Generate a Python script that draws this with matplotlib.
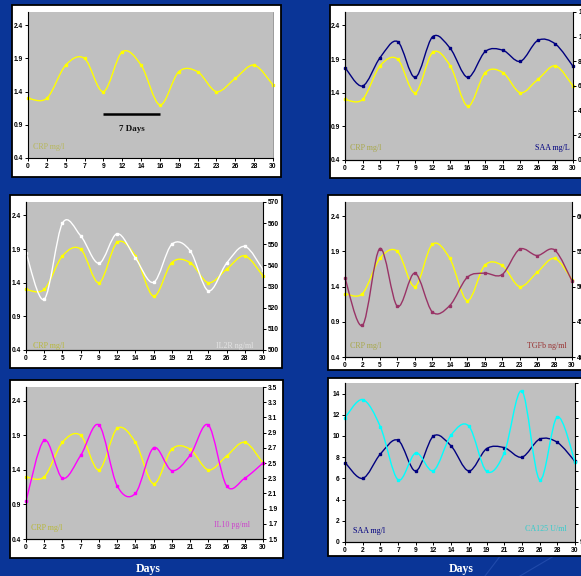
import numpy as np
import matplotlib.pyplot as plt
from matplotlib.path import Path
from matplotlib.patches import PathPatch, Rectangle
from matplotlib.lines import Line2D

# sampling days (category axis) and the measured series
days = ['0', '2', '5', '7', '9', '12', '14', '16', '19', '21', '23', '26', '28', '30']
crp = [1.3, 1.3, 1.8, 1.9, 1.4, 2.0, 1.8, 1.2, 1.7, 1.7, 1.4, 1.6, 1.8, 1.5]
saa = [7.5, 6.0, 8.3, 9.6, 6.7, 10.0, 9.05, 6.7, 8.8, 8.9, 8.0, 9.7, 9.4, 7.6]
il2r = [546, 524, 560, 554, 541, 555, 543.5, 532, 550, 547, 528, 541, 549, 538]
tgfb = [51.2, 44.5, 55.4, 47.2, 51.9, 46.4, 47.3, 51.3, 51.9, 51.7, 55.3, 54.4, 55.2, 50.8]
il10 = [2.0, 2.8, 2.3, 2.6, 3.0, 2.2, 2.1, 2.7, 2.4, 2.6, 3.0, 2.2, 2.3, 2.5]
ca125 = [130.2, 135.3, 127.6, 112.6, 120.2, 115.2, 125.3, 127.8, 115.0, 120.2, 137.7, 112.6, 130.4, 117.7]

crp_ticks = [0.4, 0.9, 1.4, 1.9, 2.4]

W, H = 581, 576
fig = plt.figure(figsize=(W / 100, H / 100), dpi=100)
fig.patch.set_facecolor('#0a3597')

SANS = 'Liberation Sans'
SERIF = 'Liberation Serif'

# faint swoosh lines of the slide background
for xs, ys in [((485, 520), (576, 530)), ((520, 581), (576, 540))]:
    fig.add_artist(Line2D([xs[0] / W, xs[1] / W], [1 - ys[0] / H, 1 - ys[1] / H],
                          color='#2f58b8', lw=0.8, alpha=0.6, zorder=-2))


def box(x0, y0, x1, y1):
    # white card behind each chart (pixel coords, top-left origin)
    fig.add_artist(Rectangle((x0 / W, 1 - y1 / H), (x1 - x0) / W, (y1 - y0) / H,
                             transform=fig.transFigure, facecolor='white',
                             edgecolor='black', lw=1.3, zorder=-1))


def style(ax, pad):
    ax.tick_params(direction='out', length=2.2, width=0.7, labelsize=4.8, pad=pad)
    for lab in ax.get_xticklabels() + ax.get_yticklabels():
        lab.set_fontweight('bold')
        lab.set_family(SANS)


def panel(x0, y0, x1, y1, xpad=2.2):
    ax = fig.add_axes([x0 / W, 1 - y1 / H, (x1 - x0) / W, (y1 - y0) / H])
    ax.set_facecolor('#c0c0c0')
    ax.set_xlim(0, len(days) - 1)
    ax.set_xticks(range(len(days)))
    ax.set_xticklabels(days)
    ax.spines['top'].set_visible(False)
    ax.spines['right'].set_color('#8a8a8a')
    ax.spines['right'].set_linewidth(0.6)
    for s in ('left', 'bottom'):
        ax.spines[s].set_linewidth(0.8)
    style(ax, 1.5)
    ax.tick_params(axis='x', pad=xpad)
    return ax


def crp_axis(ax):
    ax.set_ylim(0.4, 2.6)
    ax.set_yticks(crp_ticks)
    ax.set_yticklabels([f'{v:.1f}' for v in crp_ticks])
    style(ax, 1.5)


def right_axis(ax, lo, hi, ticks, labels):
    r = ax.twinx()
    r.set_ylim(lo, hi)
    r.set_yticks(ticks)
    r.set_yticklabels(labels)
    r.spines['top'].set_visible(False)
    r.spines['right'].set_linewidth(0.8)
    r.spines['right'].set_color('black')
    style(r, 1.5)
    return r


def smooth(ax, y, color):
    # smoothed line through the points, cubic Bezier segments
    pts = np.column_stack([np.arange(len(y), dtype=float), np.asarray(y, float)])
    n = len(pts)
    verts = [pts[0]]
    codes = [Path.MOVETO]
    for i in range(n - 1):
        p0, p1 = pts[max(i - 1, 0)], pts[i]
        p2, p3 = pts[i + 1], pts[min(i + 2, n - 1)]
        verts += [p1 + (p2 - p0) / 6, p2 - (p3 - p1) / 6, p2]
        codes += [Path.CURVE4] * 3
    ax.add_patch(PathPatch(Path(verts, codes), fill=False, edgecolor=color, lw=1.0))
    ax.plot(range(n), y, 's', color=color, ms=2.0, mec=color, clip_on=False)


def label(ax, x, y, text, color, ha='left'):
    ax.text(x, y, text, transform=ax.transAxes, ha=ha, va='center', color=color,
            fontsize=5.8, family=SERIF, fontweight='normal')


# --- CRP alone ---
box(12, 5, 281, 177)
ax1 = panel(28, 12, 273, 158, xpad=2.2)
crp_axis(ax1)
smooth(ax1, crp, '#ffff00')
a, b = days.index('9'), days.index('16')
ax1.plot([a, b], [1.06, 1.06], color='black', lw=1.8, solid_capstyle='butt')
ax1.text((a + b) / 2, 0.84, '7 Days', ha='center', va='center', fontsize=6.5,
         family=SERIF, fontweight='bold', color='#111111')
label(ax1, 0.022, 0.075, 'CRP mg/l', '#b8b85a')

# --- CRP vs SAA ---
box(330, 5, 595, 178)
ax2 = panel(345, 12, 573, 160, xpad=4.3)
crp_axis(ax2)
smooth(ax2, crp, '#ffff00')
r2 = right_axis(ax2, 0, 12, range(0, 13, 2), [str(v) for v in range(0, 13, 2)])
smooth(r2, saa, '#000080')
label(ax2, 0.022, 0.08, 'CRP mg/l', '#a8a84a')
label(ax2, 0.985, 0.08, 'SAA mg/L', '#000080', ha='right')

# --- CRP vs IL2R ---
box(10, 195, 282, 368)
ax3 = panel(26, 202, 263, 350, xpad=3.6)
crp_axis(ax3)
smooth(ax3, crp, '#ffff00')
r3 = right_axis(ax3, 500, 570, range(500, 571, 10), [str(v) for v in range(500, 571, 10)])
smooth(r3, il2r, '#ffffff')
label(ax3, 0.03, 0.025, 'CRP mg/l', '#b8b83a')
label(ax3, 0.96, 0.025, 'IL2R ng/ml', '#e4e4e4', ha='right')

# --- CRP vs TGFb ---
box(328, 195, 595, 370)
ax4 = panel(345, 202, 572, 357, xpad=0.7)
crp_axis(ax4)
smooth(ax4, crp, '#ffff00')
r4 = right_axis(ax4, 40, 62, range(40, 61, 5), [str(v) for v in range(40, 61, 5)])
smooth(r4, tgfb, '#993366')
label(ax4, 0.022, 0.07, 'CRP mg/l', '#a8a84a')
label(ax4, 0.975, 0.07, 'TGFb ng/ml', '#993333', ha='right')

# --- CRP vs IL10 ---
box(10, 380, 283, 558)
ax5 = panel(26, 387, 263, 539, xpad=3.6)
crp_axis(ax5)
smooth(ax5, crp, '#ffff00')
il10_ticks = [1.5, 1.7, 1.9, 2.1, 2.3, 2.5, 2.7, 2.9, 3.1, 3.3, 3.5]
r5 = right_axis(ax5, 1.5, 3.5, il10_ticks, [f'{v:.1f}' for v in il10_ticks])
smooth(r5, il10, '#ff00ff')
label(ax5, 0.02, 0.07, 'CRP mg/l', '#b8b83a')
label(ax5, 0.945, 0.09, 'IL10 pg/ml', '#cc44cc', ha='right')

# --- SAA vs CA125 ---
box(328, 378, 595, 556)
ax6 = panel(345, 383, 575, 542, xpad=1.4)
ax6.set_ylim(0, 15)
ax6.set_yticks(range(0, 15, 2))
ax6.set_yticklabels([str(v) for v in range(0, 15, 2)])
style(ax6, 1.5)
smooth(ax6, saa, '#000080')
r6 = right_axis(ax6, 95, 140, range(95, 141, 5), [str(v) for v in range(95, 141, 5)])
smooth(r6, ca125, '#00ffff')
label(ax6, 0.035, 0.07, 'SAA mg/l', '#000080')
label(ax6, 0.965, 0.08, 'CA125 U/ml', '#33cccc', ha='right')

# shared axis captions under the bottom row
for xc in (148, 461):
    fig.text(xc / W, 1 - 569 / H, 'Days', ha='center', va='center', color='white',
             fontsize=8.5, family=SERIF, fontweight='bold')

fig.savefig('out.png', dpi=100, facecolor=fig.get_facecolor())
